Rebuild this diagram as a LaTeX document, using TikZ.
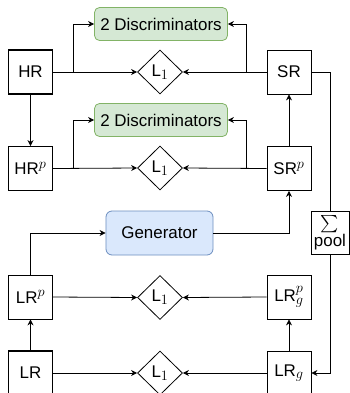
\documentclass[tikz,border=0pt]{standalone}
\usepackage{exscale}
\usepackage{fontspec}
\setmainfont{Liberation Sans}
\usetikzlibrary{shapes.geometric,arrows.meta}
% larger script sizes for the labels' indices
\DeclareMathSizes{17}{17}{14}{11}

\definecolor{discfill}{HTML}{D5E8D4}
\definecolor{discline}{HTML}{82B366}
\definecolor{genfill}{HTML}{DAE8FC}
\definecolor{genline}{HTML}{6C8EBF}

\tikzset{
  every node/.style={font=\fontsize{17}{20}\selectfont, inner sep=0pt},
  imgbox/.style={draw, line width=0.8bp, minimum width=44bp, minimum height=44bp},
  keybox/.style={imgbox, line width=1.6bp},
  lossnode/.style={draw, diamond, line width=0.8bp, minimum width=45bp, minimum height=44bp, aspect=1},
  discbox/.style={draw=discline, fill=discfill, rounded corners=5bp, line width=0.8bp,
    minimum width=133bp, minimum height=33bp},
  genbox/.style={draw=genline, fill=genfill, rounded corners=6bp, line width=0.8bp,
    minimum width=107bp, minimum height=44bp},
  poolbox/.style={draw, line width=0.8bp, minimum width=38bp, minimum height=43bp, align=center},
  conn/.style={line width=0.8bp},
  arr/.style={conn, -{Stealth[length=6bp,width=6bp]}},
}

\begin{document}
\begin{tikzpicture}[x=1bp,y=-1bp]
\useasboundingbox (0,0) rectangle (350,393);

% high-resolution pair and its pooled copy
\node[keybox] (hr) at (30.5,72) {HR};
\node[imgbox] (hrp) at (30.5,168.5) {HR$^p$};
\node[imgbox] (sr) at (289,72) {SR};
\node[imgbox] (srp) at (289,168.5) {SR$^p$};

% discriminators and losses
\node[discbox] (d1) at (161,24) {2 Discriminators};
\node[discbox] (d2) at (161,120) {2 Discriminators};
\node[lossnode] (l1a) at (160,72) {L$_1$};
\node[lossnode] (l1b) at (160,168) {L$_1$};
\node[lossnode] (l1c) at (160,297.5) {L$_1$};
\node[lossnode] (l1d) at (160,373) {L$_1$};

% generator
\node[genbox] (gen) at (159.5,233) {Generator};

% low-resolution side
\node[imgbox] (lrp) at (30.5,297) {LR$^p$};
\node[keybox] (lr) at (30.5,373) {LR};
\node[imgbox] (lrgp) at (289,297) {LR$_g^p$};
\node[imgbox] (lrg) at (289,373) {LR$_g$};

% sum pooling
\node[poolbox] (pool) at (330,232.5) {$\sum$\\[-2bp]pool};

% junction points
\coordinate (jhr) at (73,72);
\coordinate (jsr) at (246,72);
\coordinate (jhrp) at (73,168.5);
\coordinate (jsrp) at (246,168.5);

% top row
\draw[arr] (hr.east) -- (l1a.west);
\draw[arr] (jhr) |- (d1.west);
\draw[arr] (sr.west) -- (l1a.east);
\draw[arr] (jsr) |- (d1.east);

% second row
\draw[arr] (hr.south) -- (hrp.north);
\draw[arr] (hrp.east) -- (l1b.west);
\draw[arr] (jhrp) |- (d2.west);
\draw[arr] (srp.west) -- (l1b.east);
\draw[arr] (jsrp) |- (d2.east);
\draw[arr] (srp.north) -- (sr.south);

% generator path
\draw[arr] (lrp.north) |- (gen.west);
\draw[arr] (gen.east) -| (srp.south);

% low-resolution rows
\draw[arr] (lr.north) -- (lrp.south);
\draw[arr] (lrp.east) -- (l1c.west);
\draw[arr] (lrgp.west) -- (l1c.east);
\draw[arr] (lr.east) -- (l1d.west);
\draw[arr] (lrg.west) -- (l1d.east);
\draw[arr] (lrg.north) -- (lrgp.south);

% pooling loop
\draw[conn] (sr.east) -| (pool.north);
\draw[arr] (pool.south) |- (lrg.east);
\end{tikzpicture}
\end{document}
